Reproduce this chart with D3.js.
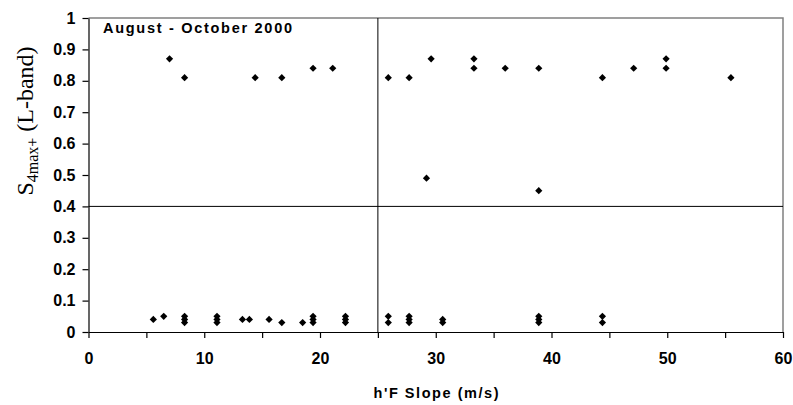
<!DOCTYPE html>
<html>
<head>
<meta charset="utf-8">
<script src="https://cdn.jsdelivr.net/npm/d3@7"></script>
<style>
  body { margin: 0; background: #fff; }
  .tick text { font-family: "Liberation Sans", Arial, sans-serif; font-weight: bold; fill: #000; }
</style>
</head>
<body>
<div id="chart"></div>
<script>
// h'F slope (m/s) vs S4max (L-band)
const slopeHigh = [7.0, 8.3, 14.4, 16.7, 19.4, 21.1, 25.9, 27.7, 29.6, 33.3, 33.3, 36.0, 38.9, 44.4, 47.1, 49.9, 49.9, 55.5];
const s4High    = [0.87, 0.81, 0.81, 0.81, 0.84, 0.84, 0.81, 0.81, 0.87, 0.87, 0.84, 0.84, 0.84, 0.81, 0.84, 0.87, 0.84, 0.81];

const slopeMid = [29.2, 38.9];
const s4Mid    = [0.49, 0.45];

const slopeLow = [5.6, 6.5, 8.3, 8.3, 8.3, 11.1, 11.1, 11.1, 13.3, 13.9, 15.6, 16.7, 18.5,
                  19.4, 19.4, 19.4, 22.2, 22.2, 22.2, 25.9, 25.9, 27.7, 27.7, 27.7, 30.6, 30.6,
                  38.9, 38.9, 38.9, 44.4, 44.4];
const s4Low    = [0.04, 0.05, 0.03, 0.04, 0.05, 0.03, 0.04, 0.05, 0.04, 0.04, 0.04, 0.03, 0.03,
                  0.03, 0.04, 0.05, 0.03, 0.04, 0.05, 0.03, 0.05, 0.03, 0.04, 0.05, 0.03, 0.04,
                  0.03, 0.04, 0.05, 0.03, 0.05];

const xTicks = [0, 5, 10, 15, 20, 25, 30, 35, 40, 45, 50, 55, 60];
const yTicks = [0, 0.1, 0.2, 0.3, 0.4, 0.5, 0.6, 0.7, 0.8, 0.9, 1];
const slopeSplit = 25;
const s4Split = 0.4;

const width = 793, height = 405;
const margin = {top: 18, right: 10, bottom: 73, left: 88.5};

const svg = d3.select("#chart").append("svg")
    .attr("width", width)
    .attr("height", height);

const x = d3.scaleLinear().domain([0, 60]).range([margin.left, width - margin.right]);
const y = d3.scaleLinear().domain([0, 1]).range([height - margin.bottom, margin.top]);

// top / right frame in grey
svg.append("path")
    .attr("d", `M${x(0)},${y(1)}H${x(60)}V${y(0)}`)
    .attr("fill", "none")
    .attr("stroke", "#808080")
    .attr("stroke-width", 1.5)

// quadrant lines
svg.append("line")
    .attr("x1", x(slopeSplit)).attr("x2", x(slopeSplit))
    .attr("y1", y(0)).attr("y2", y(1))
    .attr("stroke", "#000").attr("stroke-width", 1)
svg.append("line")
    .attr("x1", x(0)).attr("x2", x(60))
    .attr("y1", y(s4Split)).attr("y2", y(s4Split))
    .attr("stroke", "#000").attr("stroke-width", 1)

const xAxis = svg.append("g")
    .attr("transform", `translate(0,${y(0)})`)
    .call(d3.axisBottom(x).tickValues(xTicks).tickSize(6).tickSizeOuter(0)
        .tickFormat(d => d % 10 === 0 ? d : ""))
xAxis.selectAll("text").attr("font-size", 16).attr("dy", "1.45em")
xAxis.selectAll("path, line").attr("stroke", "#000").attr("stroke-width", 1.2)

const yAxis = svg.append("g")
    .attr("transform", `translate(${x(0)},0)`)
    .call(d3.axisLeft(y).tickValues(yTicks).tickSize(6).tickSizeOuter(0)
        .tickFormat(d => d === 0 || d === 1 ? d : d3.format(".1f")(d)))
yAxis.selectAll("text").attr("font-size", 16).attr("x", -13)
yAxis.selectAll("path, line").attr("stroke", "#000").attr("stroke-width", 1.2)

// points
const diamond = d3.symbol().type(d3.symbolSquare).size(26)();
const groups = [[slopeHigh, s4High], [slopeMid, s4Mid], [slopeLow, s4Low]];
groups.forEach(([xs, ys]) => {
    svg.append("g").selectAll("path")
        .data(xs.map((v, i) => [v, ys[i]]))
        .join("path")
        .attr("d", diamond)
        .attr("transform", d => `translate(${x(d[0])},${y(d[1])}) rotate(45)`)
        .attr("fill", "#000")
});

// labels
svg.append("text")
    .attr("x", 103).attr("y", 33)
    .attr("font-family", "Liberation Sans, Arial, sans-serif")
    .attr("font-weight", "bold")
    .attr("font-size", 14.5)
    .attr("textLength", 189)
    .attr("lengthAdjust", "spacing")
    .text("August - October 2000")

svg.append("text")
    .attr("x", 436).attr("y", 398)
    .attr("text-anchor", "middle")
    .attr("font-family", "Liberation Sans, Arial, sans-serif")
    .attr("font-weight", "bold")
    .attr("font-size", 14.5)
    .attr("textLength", 125)
    .attr("lengthAdjust", "spacing")
    .text("h'F Slope (m/s)")

const yTitle = svg.append("text")
    .attr("transform", "translate(33,121) rotate(-90)")
    .attr("text-anchor", "middle")
    .attr("font-family", "Liberation Serif, Times New Roman, serif")
    .attr("font-size", 24)
yTitle.append("tspan").text("S")
yTitle.append("tspan").attr("font-size", 16).attr("dy", 5).text("4max+")
yTitle.append("tspan").attr("dy", -5).text(" (L-band)")
</script>
</body>
</html>
